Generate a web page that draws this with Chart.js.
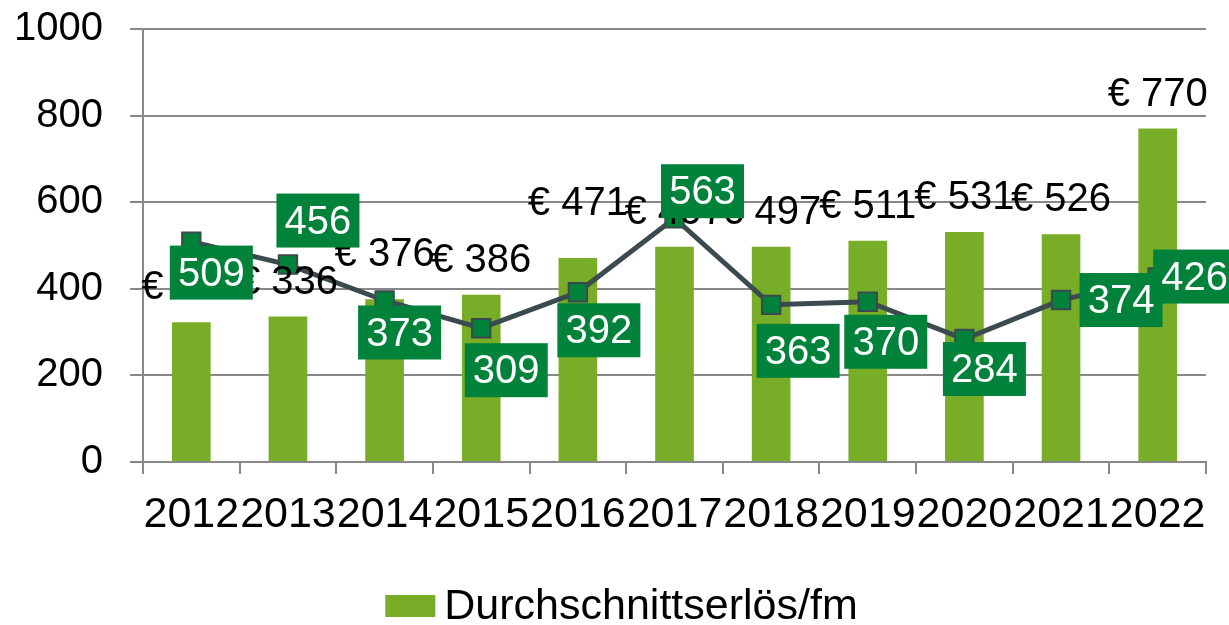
<!DOCTYPE html>
<html>
<head>
<meta charset="utf-8">
<script src="https://cdn.jsdelivr.net/npm/chart.js@4"></script>
<style>
  html, body { margin: 0; padding: 0; background: #fff; }
  #wrap { width: 1229px; height: 625px; }
</style>
</head>
<body>
<div id="wrap"><canvas id="chart" width="1229" height="625"></canvas></div>
<script>
const years = ['2012', '2013', '2014', '2015', '2016', '2017', '2018', '2019', '2020', '2021', '2022'];
const avgRevenue = [323, 336, 376, 386, 471, 497, 497, 511, 531, 526, 770];
const lineValues = [509, 456, 373, 309, 392, 563, 363, 370, 284, 374, 426];
const yTicks = [0, 200, 400, 600, 800, 1000];
const legendText = 'Durchschnittserlös/fm';

// where each green label box sits relative to its point (px)
const boxOffsets = [
  [20, 31], [30, -44], [15, 32], [25, 42], [21, 38], [28, -27],
  [27, 46], [18, 40], [20, 30], [60, 0], [37, -1],
];
// extra lift for a few bar labels that excel pushed up
const barLabelLift = [0, 0, 10, 0, 20, 0, 0, 0, 0, 0, 0];

const FONT = '"Liberation Sans", Arial, sans-serif';
const FS = 40;
const barGreen = '#78ad27';
const darkGreen = '#00823b';
const slate = '#3b4a4f';

const labelPlugin = {
  id: 'valueLabels',
  afterDatasetsDraw(chart) {
    const ctx = chart.ctx;
    ctx.save();
    ctx.font = FS + 'px ' + FONT;
    ctx.textAlign = 'center';

    // bar labels
    const bars = chart.getDatasetMeta(1).data;
    ctx.fillStyle = '#000';
    ctx.textBaseline = 'bottom';
    bars.forEach((bar, i) => {
      ctx.fillText('€ ' + avgRevenue[i], bar.x, bar.y - 14 - barLabelLift[i]);
    });

    // line labels in green boxes
    const pts = chart.getDatasetMeta(0).data;
    ctx.textBaseline = 'middle';
    pts.forEach((p, i) => {
      const cx = p.x + boxOffsets[i][0];
      const cy = p.y + boxOffsets[i][1];
      ctx.fillStyle = darkGreen;
      ctx.fillRect(cx - 41.5, cy - 27, 83, 54);
      ctx.fillStyle = '#fff';
      ctx.fillText(String(lineValues[i]), cx, cy + 2);
    });
    ctx.restore();
  },
  afterDraw(chart) {
    // legend: only the bar series is listed
    const ctx = chart.ctx;
    ctx.save();
    ctx.font = '43px ' + FONT;
    const tw = ctx.measureText(legendText).width;
    const total = 50 + 9 + tw;
    const x0 = chart.width / 2 + 7 - total / 2;
    const cy = chart.height - 19;
    ctx.fillStyle = barGreen;
    ctx.fillRect(x0, cy - 11, 50, 22);
    ctx.fillStyle = '#000';
    ctx.textAlign = 'left';
    ctx.textBaseline = 'middle';
    ctx.fillText(legendText, x0 + 59, cy + 1);
    ctx.restore();
  },
};

new Chart(document.getElementById('chart').getContext('2d'), {
  data: {
    labels: years,
    datasets: [
      {
        type: 'line',
        label: 'line',
        data: lineValues,
        borderColor: slate,
        borderWidth: 5,
        pointStyle: 'rect',
        pointRadius: 13,
        pointBackgroundColor: darkGreen,
        pointBorderColor: slate,
        pointBorderWidth: 2,
        tension: 0,
        order: 0,
      },
      {
        type: 'bar',
        label: legendText,
        data: avgRevenue,
        backgroundColor: barGreen,
        barPercentage: 0.4,
        categoryPercentage: 1,
        order: 1,
      },
    ],
  },
  options: {
    responsive: false,
    animation: false,
    layout: { padding: { top: 29, right: 23, left: 0, bottom: 44 } },
    plugins: {
      tooltip: { enabled: false },
      legend: { display: false },
    },
    scales: {
      x: {
        offset: true,
        grid: {
          offset: true,
          drawOnChartArea: false,
          drawTicks: true,
          tickLength: 12,
          color: '#888',
          lineWidth: 2,
        },
        border: { color: '#888', width: 2 },
        ticks: {
          font: { family: FONT, size: 43 },
          color: '#000',
          padding: 15,
          maxRotation: 0,
          autoSkip: false,
        },
        afterFit(scale) { scale.height = 119; },
      },
      y: {
        min: 0,
        max: 1000,
        afterBuildTicks(scale) { scale.ticks = yTicks.map(v => ({ value: v })); },
        grid: { color: '#888', lineWidth: 2, tickLength: 13 },
        border: { color: '#888', width: 2 },
        ticks: {
          font: { family: FONT, size: FS },
          color: '#000',
          padding: 27,
          callback: v => String(v),
        },
        afterFit(scale) {
          scale.width = 143;
          scale.paddingTop = 0;
          scale.paddingBottom = 0;
        },
      },
    },
  },
  plugins: [labelPlugin],
});
</script>
</body>
</html>
